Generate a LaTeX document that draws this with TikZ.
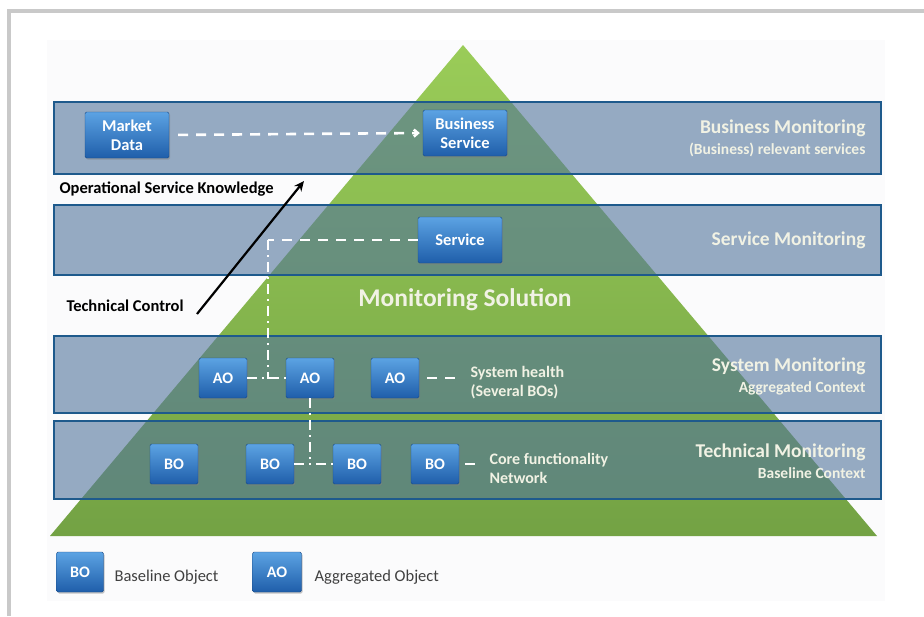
\documentclass[tikz,border=0pt]{standalone}
\usepackage{fontspec}
\setmainfont{Carlito}
\usetikzlibrary{arrows.meta,shadows}
\definecolor{pyrtop}{HTML}{9ACC58}
\definecolor{pyrbot}{HTML}{73A244}
\definecolor{bandblue}{HTML}{52749C}
\definecolor{bandedge}{HTML}{1E5A8C}
\definecolor{boxtop}{HTML}{5CA3E3}
\definecolor{boxbot}{HTML}{1F5EAA}
\definecolor{labeltext}{HTML}{F1F2E4}
\definecolor{framegray}{HTML}{C9C9C9}
\definecolor{pagewhite}{HTML}{FBFBFC}
\newcommand{\BandLeft}{54}
\newcommand{\BandRight}{881}
\newcommand{\LabelX}{869}

\begin{document}
\begin{tikzpicture}[x=1pt,y=-1pt,
  band/.style={fill=bandblue,fill opacity=0.6,draw=bandedge,line width=2.4pt},
  obj/.style={rounded corners=1.5pt,top color=boxtop,bottom color=boxbot,draw=boxbot!80!black,
    line width=0.4pt,text=white,font=\bfseries\fontsize{16}{18}\selectfont,
    minimum width=48pt,minimum height=40pt,inner sep=0pt,
    drop shadow={shadow xshift=1.2pt,shadow yshift=-1.5pt,opacity=0.45}},
  bigobj/.style={obj,minimum width=84pt,minimum height=46pt,align=center,
    font=\bfseries\fontsize{16.5}{19}\selectfont},
  title/.style={anchor=east,text=labeltext,font=\bfseries\fontsize{19.5}{21}\selectfont},
  subtitle/.style={anchor=east,text=labeltext,font=\bfseries\fontsize{15.5}{17}\selectfont},
  note/.style={anchor=west,text=labeltext,align=left,font=\bfseries\fontsize{16}{19}\selectfont},
  outer/.style={anchor=west,text=black,font=\bfseries\fontsize{16.5}{18}\selectfont},
  legend/.style={anchor=west,text=black!75,font=\fontsize{16.5}{18}\selectfont},
  link/.style={draw=white,line width=2.6pt,dash pattern=on 10pt off 8pt},
  tree/.style={draw=white,line width=2.4pt,dash pattern=on 10pt off 5pt on 2pt off 5pt},
]
\useasboundingbox (0,0) rectangle (924,616);

% frame and page
\draw[framegray,line width=3.5pt] (9,616) -- (9,11) -- (924,11);
\fill[pagewhite] (47,40) rectangle (885,601);

% pyramid
\shade[top color=pyrtop,bottom color=pyrbot] (463,45) -- (877,536) -- (50,536) -- cycle;

% monitoring bands
\draw[band] (\BandLeft,102) rectangle (\BandRight,174);
\draw[band] (\BandLeft,205) rectangle (\BandRight,275);
\draw[band] (\BandLeft,336) rectangle (\BandRight,413);
\draw[band] (\BandLeft,421) rectangle (\BandRight,499);

\node (solution) at (465,300) [text=labeltext,font=\bfseries\fontsize{25.5}{28}\selectfont] {Monitoring Solution};

% objects
\node[bigobj] (market) at (127,135) {Market\\Data};
\node[bigobj] (business) at (465,133) {Business\\Service};
\node[bigobj] (service) at (460,240) {Service};

\node[obj] (ao1) at (223,378) {AO};
\node[obj] (ao2) at (310,378) {AO};
\node[obj] (ao3) at (395,378) {AO};

\node[obj] (bo1) at (174,464) {BO};
\node[obj] (bo2) at (270,464) {BO};
\node[obj] (bo3) at (357,464) {BO};
\node[obj] (bo4) at (435,464) {BO};

\node[note] (health) at (467,383) {System health\\(Several BOs)};
\node[note] (core) at (486,468) {Core functionality\\Network};

% links
\draw[link,-{Straight Barb[length=4pt,width=7pt]},shorten <=9pt,shorten >=3pt] (market.east) -- (business.west);
\coordinate (bend) at (268,240);
\draw[link] (service.west) -- (bend);
\draw[tree] (bend) |- (ao2.west);
\draw[tree] (ao1.east) -- (ao2.west);
\draw[tree] (ao2.south) -- (ao2.south |- bo2.east);
\draw[tree] (bo2.east) -- (bo3.west);
\draw[link,shorten <=8pt,shorten >=6pt] (ao3.east) -- (health.west |- ao3.east);
\draw[link,shorten <=6pt,shorten >=4pt] (bo4.east) -- (core.west |- bo4.east);

% band labels
\node[title] (bustitle) at (\LabelX,128) {Business Monitoring};
\node[subtitle] (bussub) at (\LabelX,150) {(Business) relevant services};
\node[title] (svctitle) at (\LabelX,240) {Service Monitoring};
\node[title] (systitle) at (\LabelX,366) {System Monitoring};
\node[subtitle] (syssub) at (\LabelX,388) {Aggregated Context};
\node[title] (techtitle) at (\LabelX,452) {Technical Monitoring};
\node[subtitle] (techsub) at (\LabelX,473) {Baseline Context};

% knowledge / control
\node[outer] (knowledge) at (56,189) {Operational Service Knowledge};
\node[outer] (control) at (63,306) {Technical Control};
\coordinate (ctlfoot) at (197,314);
\coordinate (ctlhead) at (304,181);
\draw[line width=2.2pt,-{Stealth[length=10pt,width=9pt]}] (ctlfoot) -- (ctlhead);

% legend
\node[obj,minimum width=47pt] (legbo) at (80,572) {BO};
\node[legend] (legbotext) at (111,577) {Baseline Object};
\node[obj,minimum width=49pt] (legao) at (277,572) {AO};
\node[legend] (legaotext) at (311,577) {Aggregated Object};

\end{tikzpicture}
\end{document}
